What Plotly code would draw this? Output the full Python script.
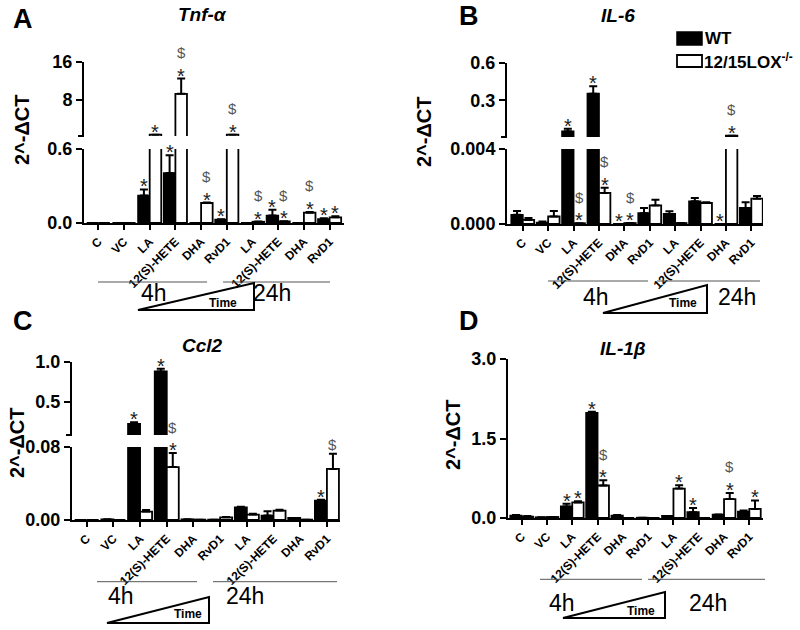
import plotly.graph_objects as go

W, H = 800, 630
FONT = "Liberation Sans"

# ---------------- data ----------------
groups = ["C", "VC", "LA", "12(S)-HETE", "DHA", "RvD1",
          "LA", "12(S)-HETE", "DHA", "RvD1"]
x_pos = list(range(len(groups)))
series_names = ["WT", "12/15LOX<sup>-/-</sup>"]

# Panel A - Tnf-α
tnf_wt     = [0.0, 0.0, 0.222, 0.405, 0.0, 0.027, 0.0, 0.060, 0.0, 0.032]
tnf_wt_err = [0.0, 0.0, 0.050, 0.145, 0.0, 0.004, 0.0, 0.048, 0.0, 0.006]
tnf_ko     = [0.0, 0.0, 0.70, 9.3, 0.162, 0.70, 0.010, 0.013, 0.084, 0.046]
tnf_ko_err = [0.0, 0.0, 0.0, 3.2, 0.004, 0.0, 0.002, 0.002, 0.006, 0.008]
tnf_marks = [(2, "wt", "*"), (2, "ko", "*"), (3, "wt", "*"), (3, "ko", "*$"),
             (4, "ko", "*$"), (5, "wt", "*"), (5, "ko", "*$"), (6, "ko", "*$"),
             (7, "wt", "*"), (7, "ko", "*$"), (8, "ko", "*$"), (9, "wt", "*"),
             (9, "ko", "*")]

# Panel B - IL-6
il6_wt     = [0.00049, 0.00007, 0.051, 0.353, 0.0, 0.00058, 0.00054, 0.00121, 0.0, 0.00086]
il6_wt_err = [0.0002, 0.00007, 0.021, 0.060, 0.0, 0.00028, 0.00014, 0.00018, 0.0, 0.0003]
il6_ko     = [0.00022, 0.0004, 0.00004, 0.00166, 0.00005, 0.00099, 0.00005, 0.00112, 0.015, 0.00135]
il6_ko_err = [0.0001, 0.0003, 0.0, 0.00027, 0.0, 0.0003, 0.0, 0.00004, 0.0, 0.00015]
il6_marks = [(2, "wt", "*"), (2, "ko", "*$"), (3, "wt", "*"), (3, "ko", "*$"),
             (4, "wt", "*"), (4, "ko", "*$"), (8, "wt", "*"), (8, "ko", "*$")]

# Panel C - Ccl2
ccl2_wt     = [0.0, 0.0007, 0.216, 0.88, 0.0007, 0.0004, 0.0139, 0.0048, 0.0022, 0.0213]
ccl2_wt_err = [0.0, 0.0, 0.020, 0.035, 0.0, 0.0, 0.0007, 0.0048, 0.0, 0.001]
ccl2_ko     = [0.0, 0.0, 0.0092, 0.058, 0.0004, 0.0029, 0.0059, 0.0103, 0.0004, 0.056]
ccl2_ko_err = [0.0, 0.0, 0.0018, 0.0154, 0.0, 0.0005, 0.001, 0.001, 0.0, 0.0167]
ccl2_marks = [(2, "wt", "*"), (3, "wt", "*"), (3, "ko", "*$"), (9, "wt", "*"), (9, "ko", "$")]

# Panel D - IL-1β
il1b_wt     = [0.045, 0.013, 0.217, 1.985, 0.045, 0.005, 0.04, 0.11, 0.064, 0.12]
il1b_wt_err = [0.01, 0.0, 0.05, 0.02, 0.01, 0.0, 0.0, 0.08, 0.0, 0.02]
il1b_ko     = [0.026, 0.019, 0.294, 0.613, 0.0, 0.0, 0.555, 0.0, 0.357, 0.172]
il1b_ko_err = [0.01, 0.0, 0.02, 0.10, 0.0, 0.0, 0.064, 0.0, 0.115, 0.16]
il1b_marks = [(2, "wt", "*"), (2, "ko", "*"), (3, "wt", "*"), (3, "ko", "*$"),
              (6, "ko", "*"), (7, "wt", "*"), (8, "ko", "*$"), (9, "ko", "*")]

# y tick labels (lower / upper segments of broken axes)
tnf_lo_ticks, tnf_lo_text = [0, 0.6], ["0.0", "0.6"]
tnf_hi_ticks, tnf_hi_text = [8, 16], ["8", "16"]
il6_lo_ticks, il6_lo_text = [0, 0.004], ["0.000", "0.004"]
il6_hi_ticks, il6_hi_text = [0.3, 0.6], ["0.3", "0.6"]
ccl2_lo_ticks, ccl2_lo_text = [0, 0.08], ["0.00", "0.08"]
ccl2_hi_ticks, ccl2_hi_text = [0.5, 1.0], ["0.5", "1.0"]
il1b_ticks, il1b_text = [0, 1.5, 3.0], ["0.0", "1.5", "3.0"]

# ---------------- layout helpers ----------------
BW = 0.45


def px(x):
    return x / W


def py(y):
    return 1 - y / H


panels = [
    dict(letter="A", title="Tnf-α", wt=tnf_wt, wte=tnf_wt_err, ko=tnf_ko, koe=tnf_ko_err,
         marks=tnf_marks, xdom=(84, 344), xr=(-0.556, 9.56),
         lo=dict(dom=(223, 149), r=(0, 0.6), tv=tnf_lo_ticks, tt=tnf_lo_text),
         hi=dict(dom=(136, 62), r=(0.42, 16), tv=tnf_hi_ticks, tt=tnf_hi_text),
         letter_pos=(23, 19), title_pos=(203, 14), ytitle_pos=(22, 130),
         lines=[(98, 207, 282), (223, 330, 282)], t4=(154, 292.5), t24=(272, 292.5),
         tri=[(138, 310), (254, 310), (254, 283)], time=(223, 303)),
    dict(letter="B", title="IL-6", wt=il6_wt, wte=il6_wt_err, ko=il6_ko, koe=il6_ko_err,
         marks=il6_marks, xdom=(507, 763), xr=(-0.62, 9.46),
         lo=dict(dom=(224, 149), r=(0, 0.004), tv=il6_lo_ticks, tt=il6_lo_text),
         hi=dict(dom=(137, 63), r=(0.005, 0.6), tv=il6_hi_ticks, tt=il6_hi_text),
         letter_pos=(469, 16), title_pos=(618, 15), ytitle_pos=(424, 132),
         lines=[(548, 648, 281), (657, 760, 281)], t4=(596, 296.5), t24=(737, 296.5),
         tri=[(603, 313), (707, 313), (707, 285)], time=(683, 303)),
    dict(letter="C", title="Ccl2", wt=ccl2_wt, wte=ccl2_wt_err, ko=ccl2_ko, koe=ccl2_ko_err,
         marks=ccl2_marks, xdom=(72, 340), xr=(-0.55, 9.49),
         lo=dict(dom=(520, 447), r=(0, 0.08), tv=ccl2_lo_ticks, tt=ccl2_lo_text),
         hi=dict(dom=(435, 362), r=(0.076, 1.0), tv=ccl2_hi_ticks, tt=ccl2_hi_text),
         letter_pos=(23, 321), title_pos=(203, 345), ytitle_pos=(17, 443),
         lines=[(97, 197, 581.7), (213, 337, 581.7)], t4=(121, 595.5), t24=(245, 595.5),
         tri=[(107, 623), (209, 623), (209, 597)], time=(188, 614)),
    dict(letter="D", title="IL-1β", wt=il1b_wt, wte=il1b_wt_err, ko=il1b_ko, koe=il1b_ko_err,
         marks=il1b_marks, xdom=(508, 763), xr=(-0.54, 9.54),
         lo=dict(dom=(518, 359), r=(0, 3.0), tv=il1b_ticks, tt=il1b_text),
         hi=None,
         letter_pos=(469, 321), title_pos=(623, 348), ytitle_pos=(453, 435),
         lines=[(540, 642, 579.3), (648, 765, 579.3)], t4=(562, 603), t24=(708, 603),
         tri=[(563, 618), (665, 618), (665, 592)], time=(641, 611)),
]

fig = go.Figure()
layout = {}
annotations = []
shapes = []
counter = [0]


def new_ids():
    counter[0] += 1
    n = counter[0]
    s = "" if n == 1 else str(n)
    return "x" + s, "y" + s, "xaxis" + s, "yaxis" + s


def add_bars(xa, ya, p, floor=None):
    for vals, errs, color, off, nm in ((p["wt"], p["wte"], "black", -BW, series_names[0]),
                                       (p["ko"], p["koe"], "white", 0.0, series_names[1])):
        if floor is not None:
            # only bars that reach the upper segment of the broken axis
            keep = [v > floor for v in vals]
            vals = [v if k else None for v, k in zip(vals, keep)]
            errs = [e if k else 0 for e, k in zip(errs, keep)]
        fig.add_trace(go.Bar(
            x=x_pos, y=vals, width=BW, offset=off, xaxis=xa, yaxis=ya, name=nm,
            marker=dict(color=color, line=dict(color="black", width=1.8)),
            error_y=dict(type="data", array=errs, arrayminus=[0] * len(errs),
                         symmetric=False, color="black", thickness=2, width=4),
            showlegend=False, hoverinfo="skip"))


def ycfg(seg, xa):
    return dict(domain=[py(seg["dom"][0]), py(seg["dom"][1])], range=list(seg["r"]),
                anchor=xa, showline=True, linecolor="black", linewidth=2,
                ticks="outside", ticklen=6, tickwidth=2, tickcolor="black",
                tickmode="array", tickvals=seg["tv"], ticktext=seg["tt"],
                tickfont=dict(family=FONT, size=18, color="black", weight="bold"),
                showgrid=False, zeroline=False, automargin=False, fixedrange=True)


for p in panels:
    xa, ya, xk, yk = new_ids()
    xdomain = [px(p["xdom"][0]), px(p["xdom"][1])]
    layout[xk] = dict(domain=xdomain, range=list(p["xr"]), anchor=ya, showline=True,
                      linecolor="black", linewidth=2, ticks="outside", ticklen=5,
                      tickwidth=2, tickcolor="black", tickmode="array", tickvals=x_pos,
                      ticktext=groups, tickangle=-45,
                      tickfont=dict(family=FONT, size=12, color="black", weight="bold"),
                      showgrid=False, zeroline=False, automargin=False, fixedrange=True)
    layout[yk] = ycfg(p["lo"], xa)
    add_bars(xa, ya, p)
    ya_hi = None
    lo_top = p["lo"]["r"][1]
    if p["hi"] is not None:
        xa2, ya2, xk2, yk2 = new_ids()
        layout[xk2] = dict(domain=xdomain, range=list(p["xr"]), anchor=ya2, visible=False,
                           matches=xa, fixedrange=True)
        layout[yk2] = ycfg(p["hi"], xa2)
        add_bars(xa2, ya2, p, floor=lo_top)
        ya_hi = ya2
        # break tick at the bottom of the upper segment
        shapes.append(dict(type="line", xref=xa2 + " domain", yref=ya2 + " domain",
                           xsizemode="pixel", xanchor=0, x0=-6, x1=0, y0=0, y1=0,
                           line=dict(color="black", width=2)))

    # significance marks
    for g, s, txt in p["marks"]:
        vals, errs = (p["wt"], p["wte"]) if s == "wt" else (p["ko"], p["koe"])
        v = vals[g]
        top = v + errs[g]
        if ya_hi is not None and v > lo_top:
            yref = ya_hi
        else:
            yref = ya
            top = min(top, lo_top)
        xoff = -BW / 2 if s == "wt" else BW / 2
        for lvl, ch in enumerate(txt):
            center = 9 + 17 * lvl
            if ch == "*":
                size, color, adj = 20, "#222222", -6
            else:
                size, color, adj = 15, "#555555", 0
            annotations.append(dict(x=g + xoff, y=top, xref=xa, yref=yref, text=ch,
                                    showarrow=False, xanchor="center", yanchor="middle",
                                    yshift=center + adj,
                                    font=dict(family=FONT, size=size, color=color)))

    # panel letter, title, y title
    annotations.append(dict(x=px(p["letter_pos"][0]), y=py(p["letter_pos"][1]), xref="paper",
                            yref="paper", text="<b>%s</b>" % p["letter"], showarrow=False,
                            xanchor="center", yanchor="middle",
                            font=dict(family=FONT, size=27, color="black")))
    annotations.append(dict(x=px(p["title_pos"][0]), y=py(p["title_pos"][1]), xref="paper",
                            yref="paper", text="<b><i>%s</i></b>" % p["title"], showarrow=False,
                            xanchor="center", yanchor="middle",
                            font=dict(family=FONT, size=19, color="black")))
    annotations.append(dict(x=px(p["ytitle_pos"][0]), y=py(p["ytitle_pos"][1]), xref="paper",
                            yref="paper", text="<b>2^-ΔCT</b>", showarrow=False, textangle=-90,
                            xanchor="center", yanchor="middle",
                            font=dict(family=FONT, size=20, color="black")))
    # time group lines
    for x0, x1, yy in p["lines"]:
        shapes.append(dict(type="line", xref="paper", yref="paper", x0=px(x0), x1=px(x1),
                           y0=py(yy), y1=py(yy), line=dict(color="#555555", width=1)))
    for key, label in (("t4", "4h"), ("t24", "24h")):
        annotations.append(dict(x=px(p[key][0]), y=py(p[key][1]), xref="paper", yref="paper",
                                text=label, showarrow=False, xanchor="center", yanchor="middle",
                                font=dict(family=FONT, size=23, color="black")))
    (a, b, c) = p["tri"]
    path = "M %f,%f L %f,%f L %f,%f Z" % (px(a[0]), py(a[1]), px(b[0]), py(b[1]), px(c[0]), py(c[1]))
    shapes.append(dict(type="path", xref="paper", yref="paper", path=path,
                       line=dict(color="black", width=2), fillcolor="rgba(0,0,0,0)"))
    annotations.append(dict(x=px(p["time"][0]), y=py(p["time"][1]), xref="paper", yref="paper",
                            text="<b>Time</b>", showarrow=False, xanchor="center",
                            yanchor="middle", font=dict(family=FONT, size=12, color="black")))

# legend (drawn manually, GraphPad style)
shapes.append(dict(type="rect", xref="paper", yref="paper", x0=px(677), x1=px(702),
                   y0=py(45), y1=py(32), fillcolor="black", line=dict(color="black", width=1.5)))
shapes.append(dict(type="rect", xref="paper", yref="paper", x0=px(677), x1=px(702),
                   y0=py(67), y1=py(55), fillcolor="white", line=dict(color="black", width=1.8)))
annotations.append(dict(x=px(703), y=py(38.5), xref="paper", yref="paper",
                        text="<b>%s</b>" % series_names[0], showarrow=False, xanchor="left",
                        yanchor="middle", font=dict(family=FONT, size=17, color="black")))
annotations.append(dict(x=px(702), y=py(61), xref="paper", yref="paper",
                        text="<b>%s</b>" % series_names[1], showarrow=False, xanchor="left",
                        yanchor="middle", font=dict(family=FONT, size=17, color="black")))

fig.update_layout(
    width=W, height=H, margin=dict(l=0, r=0, t=0, b=0, autoexpand=False),
    template="none", paper_bgcolor="white", plot_bgcolor="rgba(0,0,0,0)",
    barmode="overlay", showlegend=False, annotations=annotations, shapes=shapes,
    font=dict(family=FONT, color="black"), **layout)

fig.write_html("out.html", config={"displayModeBar": False},
               post_script="document.body.style.margin='0px';document.body.style.padding='0px';")
